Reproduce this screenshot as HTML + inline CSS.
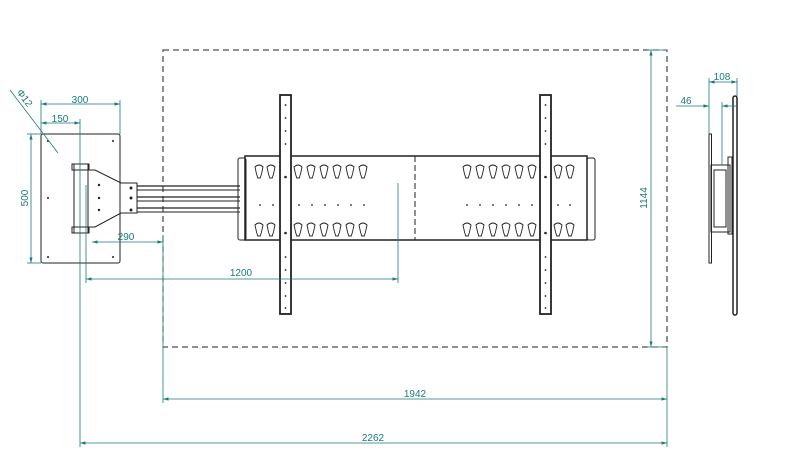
<!DOCTYPE html>
<html><head><style>body{margin:0;background:#fff}svg{display:block}</style></head><body>
<svg width="804" height="469" viewBox="0 0 804 469" xmlns="http://www.w3.org/2000/svg" font-family="Liberation Sans, sans-serif">
<defs>
<marker id="a" markerWidth="8" markerHeight="6" refX="7" refY="3" orient="auto-start-reverse"><path d="M0,1 L7,3 L0,5z" fill="#1a7a7a"/></marker>
<g id="kh"><path d="M-4,-5 Q0,-9 4,-5 L2.5,2 L1.2,6 L-1.2,6 L-2.5,2z" fill="none" stroke="#222" stroke-width="0.9"/></g>
</defs>
<rect x="163" y="50" width="504" height="297" fill="none" stroke="#222" stroke-dasharray="6,4" stroke-width="1"/>
<g stroke="#222" fill="none" stroke-width="1">
<rect x="41" y="134" width="79" height="129" rx="2"/>
<rect x="74" y="164" width="14" height="69"/>
<rect x="72" y="164" width="17" height="6"/>
<rect x="72" y="227" width="17" height="6"/>
<path d="M89,170 L95,170 L121,183 L137,183 L137,213 L121,213 L95,227 L89,227"/>
<line x1="137" y1="186" x2="240" y2="186" stroke-width="1.3"/><line x1="137" y1="190" x2="240" y2="190"/>
<line x1="137" y1="197" x2="240" y2="197" stroke-width="1.3"/><line x1="137" y1="201" x2="240" y2="201"/>
<line x1="137" y1="208" x2="240" y2="208" stroke-width="1.3"/><line x1="137" y1="212" x2="240" y2="212"/>
<rect x="238" y="158" width="8" height="82" rx="2"/>
<rect x="587" y="158" width="8" height="82" rx="2"/>
<rect x="245" y="156" width="342" height="84" stroke-width="1.5"/>
<line x1="415" y1="156" x2="415" y2="240" stroke-dasharray="6,3"/>
<rect x="280" y="95" width="11" height="219" stroke-width="1.8" fill="#fff"/>
<rect x="540" y="95" width="11" height="219" stroke-width="1.8" fill="#fff"/>
<rect x="709" y="134" width="2.5" height="129"/>
<rect x="711" y="165" width="19" height="67"/>
<rect x="714" y="170" width="12" height="57"/>
<rect x="728" y="157" width="4" height="77"/>
<rect x="733" y="96" width="4" height="219" rx="2" stroke-width="1.5"/>
</g>
<g fill="#222">
<circle cx="99" cy="185" r="1.2"/><circle cx="99" cy="198" r="1.2"/><circle cx="99" cy="210" r="1.2"/>
<circle cx="131" cy="188" r="1.5"/><circle cx="131" cy="198" r="1.5"/><circle cx="131" cy="210" r="1.5"/>
<circle cx="48" cy="141" r="1"/><circle cx="113" cy="141" r="1"/><circle cx="48" cy="198" r="1"/><circle cx="48" cy="257" r="1"/><circle cx="113" cy="257" r="1"/>
</g>
<g>
<use href="#kh" x="259" y="172"/><use href="#kh" x="271" y="172"/><use href="#kh" x="298" y="172"/><use href="#kh" x="311" y="172"/><use href="#kh" x="324" y="172"/><use href="#kh" x="337" y="172"/><use href="#kh" x="350" y="172"/><use href="#kh" x="363" y="172"/>
<use href="#kh" x="259" y="230"/><use href="#kh" x="271" y="230"/><use href="#kh" x="298" y="230"/><use href="#kh" x="311" y="230"/><use href="#kh" x="324" y="230"/><use href="#kh" x="337" y="230"/><use href="#kh" x="350" y="230"/><use href="#kh" x="363" y="230"/>
<use href="#kh" x="467" y="172"/><use href="#kh" x="480" y="172"/><use href="#kh" x="493" y="172"/><use href="#kh" x="506" y="172"/><use href="#kh" x="519" y="172"/><use href="#kh" x="532" y="172"/><use href="#kh" x="558" y="172"/><use href="#kh" x="570" y="172"/>
<use href="#kh" x="467" y="230"/><use href="#kh" x="480" y="230"/><use href="#kh" x="493" y="230"/><use href="#kh" x="506" y="230"/><use href="#kh" x="519" y="230"/><use href="#kh" x="532" y="230"/><use href="#kh" x="558" y="230"/><use href="#kh" x="570" y="230"/>
</g>
<g fill="#222">
<circle cx="260" cy="205" r="0.9"/><circle cx="273" cy="205" r="0.9"/><circle cx="299" cy="205" r="0.9"/><circle cx="312" cy="205" r="0.9"/><circle cx="325" cy="205" r="0.9"/><circle cx="338" cy="205" r="0.9"/><circle cx="351" cy="205" r="0.9"/><circle cx="364" cy="205" r="0.9"/>
<circle cx="467" cy="205" r="0.9"/><circle cx="480" cy="205" r="0.9"/><circle cx="493" cy="205" r="0.9"/><circle cx="506" cy="205" r="0.9"/><circle cx="519" cy="205" r="0.9"/><circle cx="532" cy="205" r="0.9"/><circle cx="558" cy="205" r="0.9"/><circle cx="570" cy="205" r="0.9"/>
<circle cx="285.5" cy="105" r="0.9"/><circle cx="285.5" cy="118" r="0.9"/><circle cx="285.5" cy="131" r="0.9"/><circle cx="285.5" cy="144" r="0.9"/><circle cx="285.5" cy="177" r="1.3"/><circle cx="285.5" cy="233" r="1.3"/><circle cx="285.5" cy="257" r="0.9"/><circle cx="285.5" cy="270" r="0.9"/><circle cx="285.5" cy="283" r="0.9"/><circle cx="285.5" cy="296" r="0.9"/><circle cx="285.5" cy="308" r="0.9"/>
<circle cx="545.5" cy="105" r="0.9"/><circle cx="545.5" cy="118" r="0.9"/><circle cx="545.5" cy="131" r="0.9"/><circle cx="545.5" cy="144" r="0.9"/><circle cx="545.5" cy="177" r="1.3"/><circle cx="545.5" cy="233" r="1.3"/><circle cx="545.5" cy="257" r="0.9"/><circle cx="545.5" cy="270" r="0.9"/><circle cx="545.5" cy="283" r="0.9"/><circle cx="545.5" cy="296" r="0.9"/><circle cx="545.5" cy="308" r="0.9"/>
</g>
<g stroke="#1a7a7a" stroke-width="0.8" fill="none">
<line x1="41" y1="100" x2="41" y2="134"/><line x1="120" y1="100" x2="120" y2="134"/>
<line x1="80" y1="119" x2="80" y2="447"/><line x1="86" y1="185" x2="86" y2="283"/>
<line x1="27" y1="134" x2="41" y2="134"/><line x1="27" y1="263" x2="41" y2="263"/>
<line x1="163" y1="235" x2="163" y2="403"/><line x1="398" y1="183" x2="398" y2="283"/>
<line x1="667" y1="347" x2="667" y2="447"/>
<line x1="647" y1="50" x2="667" y2="50"/><line x1="647" y1="347" x2="667" y2="347"/>
<line x1="709" y1="78" x2="709" y2="134"/><line x1="737" y1="78" x2="737" y2="96"/><line x1="722" y1="102" x2="722" y2="165"/>
<line x1="10" y1="90" x2="58" y2="153"/>
<line x1="41" y1="104" x2="120" y2="104" marker-start="url(#a)" marker-end="url(#a)"/>
<line x1="41" y1="123" x2="80" y2="123" marker-start="url(#a)" marker-end="url(#a)"/>
<line x1="31" y1="134" x2="31" y2="263" marker-start="url(#a)" marker-end="url(#a)"/>
<line x1="92" y1="242" x2="163" y2="242" marker-start="url(#a)" marker-end="url(#a)"/>
<line x1="86" y1="279" x2="398" y2="279" marker-start="url(#a)" marker-end="url(#a)"/>
<line x1="163" y1="399" x2="667" y2="399" marker-start="url(#a)" marker-end="url(#a)"/>
<line x1="80" y1="443" x2="667" y2="443" marker-start="url(#a)" marker-end="url(#a)"/>
<line x1="651" y1="50" x2="651" y2="347" marker-start="url(#a)" marker-end="url(#a)"/>
<line x1="709" y1="82" x2="737" y2="82" marker-start="url(#a)" marker-end="url(#a)"/>
<line x1="676" y1="106" x2="709" y2="106" marker-end="url(#a)"/><line x1="722" y1="106" x2="737" y2="106" marker-start="url(#a)"/>
</g>
<g fill="#1a7a7a" font-size="10" text-anchor="middle">
<text x="80" y="103">300</text><text x="60" y="122">150</text>
<text x="126" y="240">290</text><text x="241" y="276">1200</text>
<text x="415" y="397">1942</text><text x="373" y="441">2262</text>
<text x="722" y="80">108</text><text x="686" y="104">46</text>
<text transform="translate(28,198) rotate(-90)">500</text>
<text transform="translate(647,198) rotate(-90)">1144</text>
<text transform="translate(22,100) rotate(53)">Φ12</text>
</g>
</svg>
</body></html>
